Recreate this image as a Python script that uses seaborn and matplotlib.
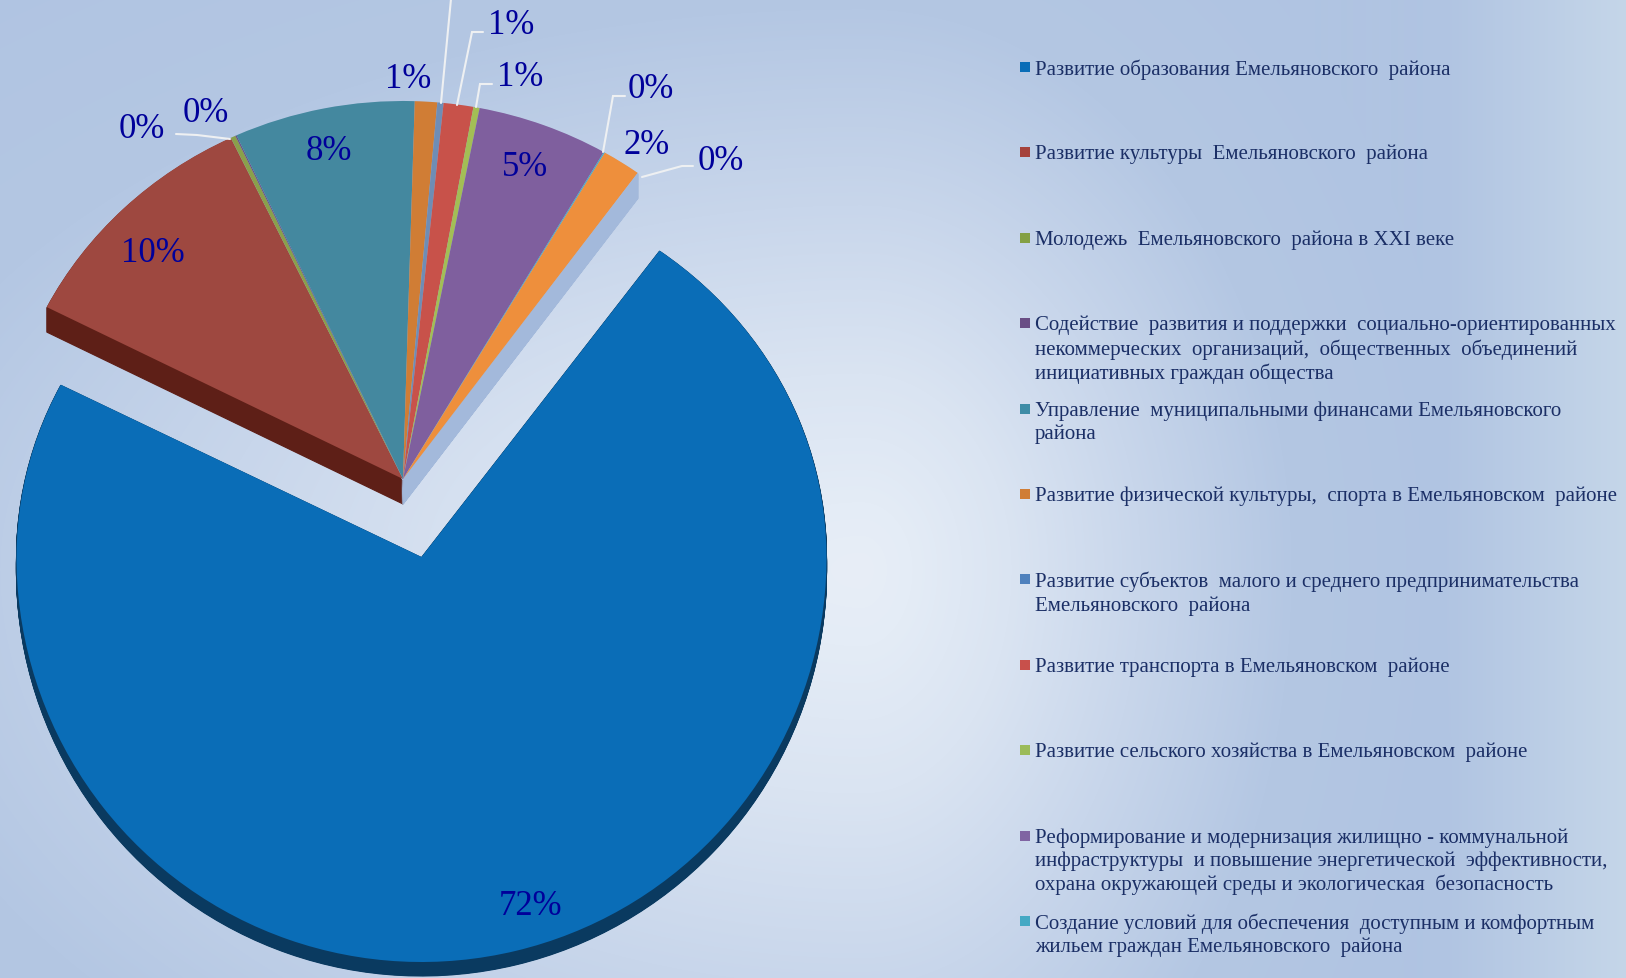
import numpy as np
import matplotlib
matplotlib.use("Agg")
import matplotlib.pyplot as plt
from matplotlib.transforms import Affine2D
import seaborn as sns

sns.set_theme(style="white")
plt.rcParams['font.family'] = ['Liberation Serif', 'DejaVu Serif']

W, H = 1626, 979

# ---------- data ----------
shares = [72.5, 10.4, 0.2, 0.05, 7.3, 0.9, 0.25, 1.2, 0.25, 5.3, 0.05, 1.56, 0.02]
slice_colors = ["#0A6DB7", "#9E4840", "#8AA04A", "#6A4E85", "#44889F", "#D07D35",
                "#6F8DB5", "#C8524A", "#A3BE55", "#7F5F9E", "#4BACC6", "#EE8F3C", "#A6BDE0"]
side_colors = ["#0A3A60", "#5E1F17"] + ["#A3B9DB"] * 11
pct_labels = ["72%", "10%", "0%", "0%", "8%", "1%", "1%", "1%", "0%", "5%", "2%", "0%"]
legend_labels = [
    "Развитие образования Емельяновского  района",
    "Развитие культуры  Емельяновского  района",
    "Молодежь  Емельяновского  района в XXI веке",
    "Содействие  развития и поддержки  социально-ориентированных\nнекоммерческих  организаций,  общественных  объединений\nинициативных граждан общества",
    "Управление  муниципальными финансами Емельяновского\nрайона",
    "Развитие физической культуры,  спорта в Емельяновском  районе",
    "Развитие субъектов  малого и среднего предпринимательства\nЕмельяновского  района",
    "Развитие транспорта в Емельяновском  районе",
    "Развитие сельского хозяйства в Емельяновском  районе",
    "Реформирование и модернизация жилищно - коммунальной\nинфраструктуры  и повышение энергетической  эффективности,\nохрана окружающей среды и экологическая  безопасность",
    "Создание условий для обеспечения  доступным и комфортным\nжильем граждан Емельяновского  района",
]
legend_colors = ["#0A6DB7", "#A5423C", "#84A044", "#6A4E85", "#3E8CA6", "#D07D35",
                 "#4F81BD", "#C8504B", "#9BBB59", "#8064A2", "#45A9C4"]

# ---------- layout ----------
label_xy = [(531, 907), (153, 253), (142, 130), (206, 113), (329, 151), (408, 79),
            (511, 25), (520, 77), (651, 89), (525, 167), (647, 145), (721, 161)]
leaders = [
    [(441, 104), (451, 0)],
    [(457, 106), (472, 33), (483, 33)],
    [(476, 108), (480, 85), (492, 85)],
    [(603, 153), (613, 97), (625, 97)],
    [(642, 178), (682, 167), (693, 167)],
    [(230, 140), (197, 136), (176, 135)],
]
main_c, main_r, main_d = (421.5, 558), (405, 405), 14
rest_c, rest_r, rest_d = (403, 480), (400, 378), 25
main_upper_squeeze = 0.935

fig = plt.figure(figsize=(W / 100, H / 100), dpi=100)
ax = fig.add_axes([0, 0, 1, 1])

# ---------- background ----------
yy, xx = np.mgrid[0:H, 0:W]
sx = np.where(xx < 860, 1000.0, 430.0)
sy = np.where(yy < 570, 560.0, 640.0)
r = np.sqrt(((xx - 860) / sx) ** 2 + ((yy - 570) / sy) ** 2)
stops = [0, 0.12, 0.35, 0.65, 1.0, 1.4]
c0 = np.array([[232, 238, 247], [228, 236, 246], [218, 228, 242],
               [200, 214, 235], [180, 199, 227], [176, 196, 226]], float)
bg = np.dstack([np.interp(r, stops, c0[:, k]) for k in range(3)])
edge = np.clip((xx - 1440) / 186, 0, 1)[..., None]
bg = bg * (1 - edge) + np.array([197, 214, 233]) * edge
ax.imshow(bg / 255, extent=(0, W, H, 0), aspect="auto", zorder=0, interpolation="bilinear")


def place(wedges, offset=0.0):
    for i, w in enumerate(wedges):
        c, rad, d = (main_c, main_r, main_d) if i == 0 else (rest_c, rest_r, rest_d)
        if i == 0:
            p = w.get_path()
            v = np.array(p.vertices)
            v[v[:, 1] > 0, 1] *= main_upper_squeeze
            p.vertices = v
        w.set_transform(Affine2D().scale(rad[0], -rad[1]).translate(c[0], c[1] + d * offset) + ax.transData)


# ---------- side walls, then top faces ----------
for t in np.linspace(1, 0.04, 26):
    walls, _ = ax.pie(shares, colors=side_colors, startangle=54, counterclock=False,
                      wedgeprops=dict(linewidth=0.8, zorder=2), normalize=True)
    for w, col in zip(walls, side_colors):
        w.set_edgecolor(col)
    place(walls, t)

tops, _ = ax.pie(shares, colors=slice_colors, startangle=54, counterclock=False,
                 wedgeprops=dict(linewidth=0, zorder=3), normalize=True)
place(tops)

ax.set_xlim(0, W)
ax.set_ylim(H, 0)
ax.set_aspect("auto")
ax.axis("off")

# ---------- leaders and labels ----------
for path in leaders:
    xs, ys = zip(*path)
    ax.plot(xs, ys, color="#EEF0F2", lw=1.5, zorder=4, solid_joinstyle="miter")
for txt, (x, y) in zip(pct_labels, label_xy):
    ax.text(x, y, txt, color="#00009A", fontsize=25, ha="center", va="center", zorder=5)

# ---------- legend ----------
pitch = 85.4
for i, (txt, col) in enumerate(zip(legend_labels, legend_colors)):
    y = 59.5 + pitch * i
    ax.scatter([1025], [y + 8.5], marker="s", s=60, color=col, linewidths=0, zorder=5)
    ax.text(1035, y, txt, color="#1B2F66", fontsize=15, ha="left", va="top",
            linespacing=1.25, zorder=5)

fig.savefig("out.png", dpi=100)
